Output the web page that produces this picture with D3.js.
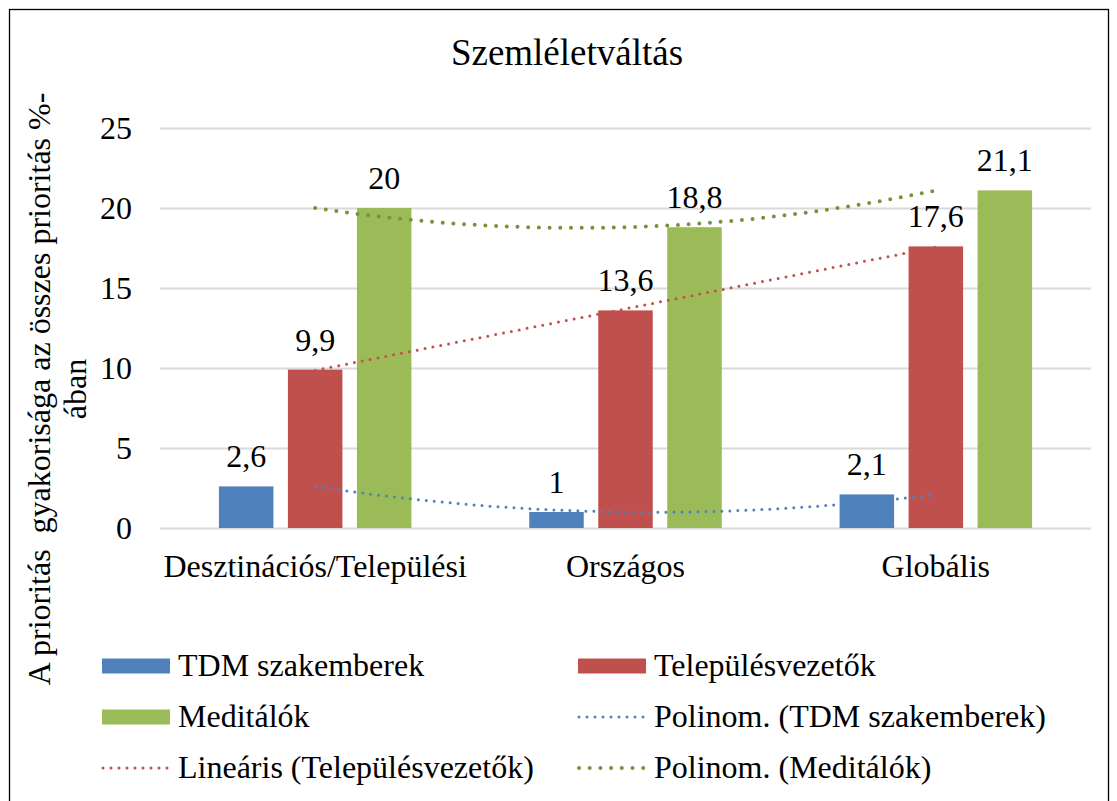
<!DOCTYPE html>
<html lang="hu">
<head>
    <meta charset="UTF-8">
    <title>Szemléletváltás</title>
    <script src="https://d3js.org/d3.v7.min.js"></script>
    <style>
        body { margin: 0; background: #fff; }
        text { font-family: "Liberation Serif", "Times New Roman", serif; fill: #000; white-space: pre; }
    </style>
</head>
<body>
<div id="chart"></div>
<script>

    // data
    var categories = ["Desztinációs/Települési", "Országos", "Globális"];
    var seriesNames = ["TDM szakemberek", "Településvezetők", "Meditálók"];
    var tdmValues = [2.6, 1, 2.1];
    var telepValues = [9.9, 13.6, 17.6];
    var meditValues = [20, 18.8, 21.1];
    var yTicks = [0, 5, 10, 15, 20, 25];
    var trendNames = ["Polinom. (TDM szakemberek)", "Lineáris (Településvezetők)", "Polinom. (Meditálók)"];

    var barColors = ["#4F81BD", "#C0504D", "#9BBB59"];
    var trendColors = ["#4F81BD", "#C0504D", "#76923C"];

    var W = 1117, H = 801;
    var plot = {left: 160, right: 1091, top: 128, bottom: 528};

    var svg = d3.select("#chart").append("svg")
        .attr("width", W)
        .attr("height", H);

    // outer border
    svg.append("rect")
        .attr("x", 9.5).attr("y", 9.5)
        .attr("width", 1099).attr("height", 820)
        .attr("fill", "none")
        .attr("stroke", "#000")
        .attr("stroke-width", 1.3);

    // title
    svg.append("text")
        .attr("x", 567).attr("y", 65)
        .attr("text-anchor", "middle")
        .style("font-size", "37px")
        .text("Szemléletváltás");

    // scales
    var x0 = d3.scaleBand().domain(categories).range([plot.left, plot.right]);
    var x1 = d3.scaleBand().domain(seriesNames).range([0, 192.5]).paddingInner(0.21);
    var y = d3.scaleLinear().domain([0, 25]).range([plot.bottom, plot.top]);
    // category index (1..3) -> centre of the category, for the trendlines
    var xt = d3.scaleLinear().domain([1, 3])
        .range([x0(categories[0]) + x0.bandwidth() / 2, x0(categories[2]) + x0.bandwidth() / 2]);
    var groupOffset = (x0.bandwidth() - 192.5) / 2;

    // gridlines
    var yAxis = svg.append("g")
        .attr("transform", "translate(" + plot.left + ",0)")
        .call(d3.axisLeft(y).tickValues(yTicks).tickSize(-(plot.right - plot.left)).tickPadding(28));
    yAxis.select(".domain").remove();
    yAxis.selectAll(".tick line").attr("stroke", "#D9D9D9").attr("stroke-width", 2);
    yAxis.selectAll(".tick text")
        .style("font-size", "32px")
        .style("font-family", "'Liberation Serif', 'Times New Roman', serif")
        .attr("fill", "#000");

    // category labels
    svg.append("g").selectAll("text")
        .data(categories)
        .join("text")
        .attr("x", function (d) { return x0(d) + x0.bandwidth() / 2; })
        .attr("y", 577)
        .attr("text-anchor", "middle")
        .style("font-size", "32px")
        .text(function (d) { return d; });

    // y axis title
    var yTitle = svg.append("text")
        .attr("transform", "translate(0,389) rotate(-90)")
        .attr("text-anchor", "middle")
        .style("font-size", "32px");
    yTitle.append("tspan").attr("x", 0).attr("y", 50).text("A prioritás  gyakorisága az összes prioritás %-");
    yTitle.append("tspan").attr("x", 0).attr("y", 86).text("ában");

    // bars
    var allValues = [tdmValues, telepValues, meditValues];
    var bars = [];
    categories.forEach(function (c, ci) {
        seriesNames.forEach(function (s, si) {
            bars.push({cat: c, series: s, si: si, value: allValues[si][ci]});
        });
    });

    svg.append("g").selectAll("rect")
        .data(bars)
        .join("rect")
        .attr("x", function (d) { return x0(d.cat) + groupOffset + x1(d.series); })
        .attr("y", function (d) { return y(d.value); })
        .attr("width", x1.bandwidth())
        .attr("height", function (d) { return y(0) - y(d.value); })
        .attr("fill", function (d) { return barColors[d.si]; });

    // data labels
    svg.append("g").selectAll("text")
        .data(bars)
        .join("text")
        .attr("x", function (d) { return x0(d.cat) + groupOffset + x1(d.series) + x1.bandwidth() / 2; })
        .attr("y", function (d) { return y(d.value) - 19; })
        .attr("text-anchor", "middle")
        .style("font-size", "32px")
        .text(function (d) { return String(d.value).replace(".", ","); });

    // least squares polynomial fit
    function polyfit(xs, ys, deg) {
        var n = deg + 1, A = [], b = [];
        for (var i = 0; i < n; i++) {
            A.push([]);
            for (var j = 0; j < n; j++) A[i].push(d3.sum(xs, function (xv) { return Math.pow(xv, i + j); }));
            b.push(d3.sum(xs, function (xv, k) { return ys[k] * Math.pow(xv, i); }));
        }
        for (var p = 0; p < n; p++) {
            for (var r = p + 1; r < n; r++) {
                var f = A[r][p] / A[p][p];
                for (var c = p; c < n; c++) A[r][c] -= f * A[p][c];
                b[r] -= f * b[p];
            }
        }
        var coef = new Array(n).fill(0);
        for (var q = n - 1; q >= 0; q--) {
            var s = b[q];
            for (var c2 = q + 1; c2 < n; c2++) s -= A[q][c2] * coef[c2];
            coef[q] = s / A[q][q];
        }
        return function (xv) { return d3.sum(coef, function (cf, k) { return cf * Math.pow(xv, k); }); };
    }

    var idx = [1, 2, 3];
    var trends = [
        {fn: polyfit(idx, tdmValues, 2), color: trendColors[0], width: 3, dash: "0 8"},
        {fn: polyfit(idx, telepValues, 1), color: trendColors[1], width: 3, dash: "0 8"},
        {fn: polyfit(idx, meditValues, 2), color: trendColors[2], width: 4, dash: "0 10.7"}
    ];
    var samples = d3.range(1, 3.0001, 0.04);
    var line = d3.line()
        .x(function (d) { return xt(d[0]); })
        .y(function (d) { return y(d[1]); });

    svg.append("g").selectAll("path")
        .data(trends)
        .join("path")
        .attr("d", function (t) { return line(samples.map(function (s) { return [s, t.fn(s)]; })); })
        .attr("fill", "none")
        .attr("stroke", function (t) { return t.color; })
        .attr("stroke-width", function (t) { return t.width; })
        .attr("stroke-linecap", "round")
        .attr("stroke-dasharray", function (t) { return t.dash; });

    // legend
    var legendItems = [
        {label: seriesNames[0], type: "bar", color: barColors[0], col: 0, row: 0},
        {label: seriesNames[1], type: "bar", color: barColors[1], col: 1, row: 0},
        {label: seriesNames[2], type: "bar", color: barColors[2], col: 0, row: 1},
        {label: trendNames[0], type: "trend", t: trends[0], col: 1, row: 1},
        {label: trendNames[1], type: "trend", t: trends[1], col: 0, row: 2},
        {label: trendNames[2], type: "trend", t: trends[2], col: 1, row: 2}
    ];
    var colX = [102, 578], rowY = [666, 717, 768];

    var leg = svg.append("g").selectAll("g")
        .data(legendItems)
        .join("g")
        .attr("transform", function (d) { return "translate(" + colX[d.col] + "," + rowY[d.row] + ")"; });

    leg.filter(function (d) { return d.type === "bar"; })
        .append("rect")
        .attr("x", 0).attr("y", -7.5)
        .attr("width", 68).attr("height", 15)
        .attr("fill", function (d) { return d.color; });

    leg.filter(function (d) { return d.type === "trend"; })
        .append("line")
        .attr("x1", 1).attr("x2", 68)
        .attr("y1", 0).attr("y2", 0)
        .attr("stroke", function (d) { return d.t.color; })
        .attr("stroke-width", function (d) { return d.t.width; })
        .attr("stroke-linecap", "round")
        .attr("stroke-dasharray", function (d) { return d.t.dash; });

    leg.append("text")
        .attr("x", 76)
        .attr("y", 10)
        .style("font-size", "32px")
        .text(function (d) { return d.label; });

</script>
</body>
</html>
